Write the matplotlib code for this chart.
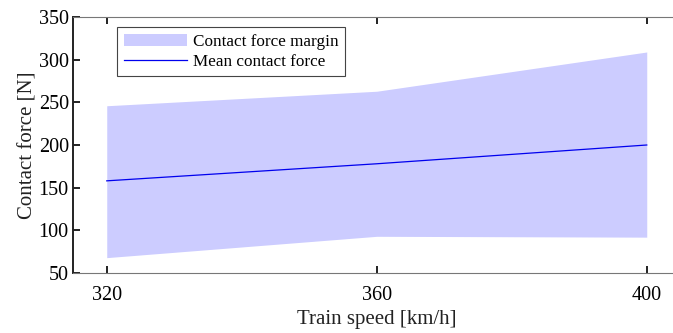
import numpy as np
import matplotlib
matplotlib.use("Agg")
from matplotlib import pyplot as plt

speed = [320, 360, 400]
force_upper = [246, 263, 309]
force_lower = [68, 93, 92]
force_mean = [158, 178, 200]

plt.rcParams['font.family'] = ['Liberation Serif', 'DejaVu Serif']

fig = plt.figure(figsize=(6.73, 3.33), dpi=100)
W, H = 673, 333
ax = fig.add_axes([73 / W, 1 - 273 / H, 607.5 / W, 256 / H])

ax.fill_between(speed, force_lower, force_upper, color='#ccccff', linewidth=0,
                label='Contact force margin')
ax.plot(speed, force_mean, color='#0000ee', linewidth=0.9, label='Mean contact force')

ax.set_xlim(315, 405)
ax.set_ylim(50, 350)
ax.set_xticks(speed)
ax.set_yticks(np.arange(50, 351, 50))
ax.tick_params(direction='in', labelsize=14.5, length=5, width=1.4, color='#222222')
ax.tick_params(axis='x', pad=9, top=True)
ax.tick_params(axis='y', pad=3)
ax.spines['right'].set_visible(False)
ax.spines['left'].set_linewidth(1.4)
ax.spines['left'].set_color('#222222')
ax.spines['top'].set_color('#777777')
ax.spines['bottom'].set_color('#777777')

ax.set_xlabel('Train speed [km/h]', fontsize=15, color='#222222', labelpad=4)
ax.set_ylabel('Contact force [N]', fontsize=15, color='#222222', labelpad=1)

leg = ax.legend(loc='upper left', bbox_to_anchor=(0.0724, 0.961), borderaxespad=0,
                fontsize=12.3, fancybox=False, framealpha=1, edgecolor='#444444',
                handlelength=3.7, borderpad=0.4, labelspacing=0.22, handletextpad=0.35)
leg.get_frame().set_linewidth(0.8)

fig.savefig('out.png', dpi=100)
